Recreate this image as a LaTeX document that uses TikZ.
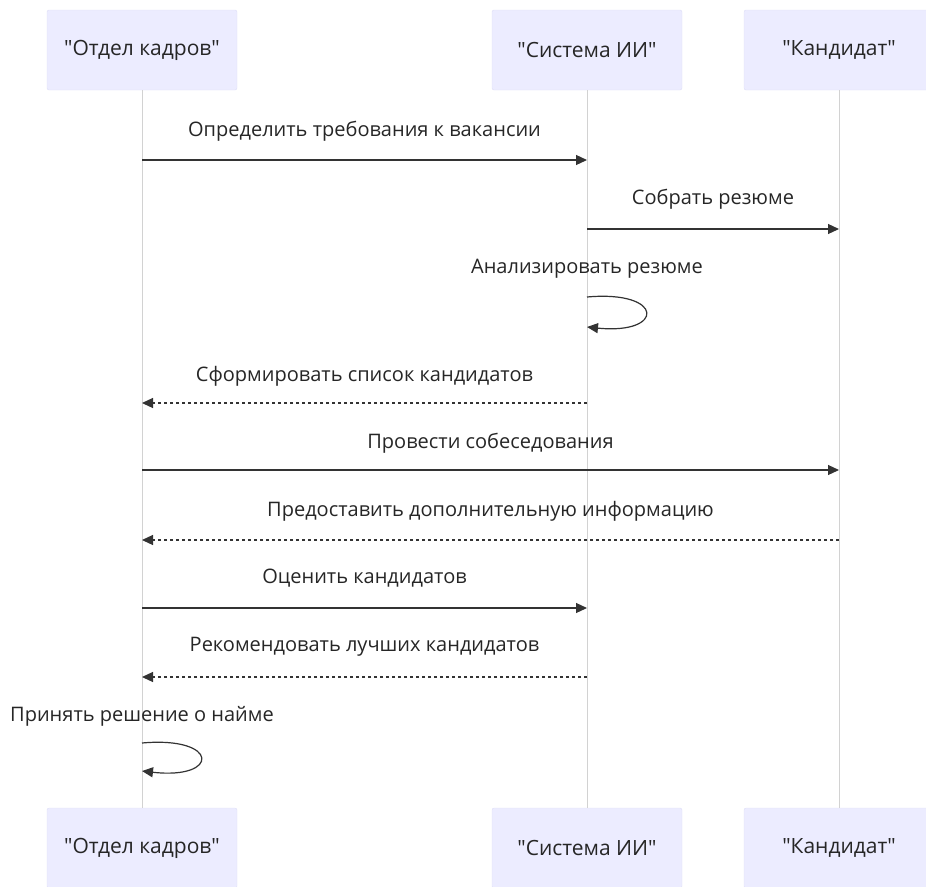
\documentclass[tikz,border=0pt]{standalone}
\usepackage{fontspec}
\setmainfont{Open Sans}
\usetikzlibrary{arrows.meta}
\definecolor{actorfill}{HTML}{ECECFF}
\definecolor{actorline}{HTML}{DEDEF6}
\definecolor{msgcolor}{HTML}{333333}
\newcommand{\qt}[1]{\textquotedbl#1\textquotedbl}
\tikzset{
  actor/.style={draw=actorline, fill=actorfill, rounded corners=2pt, minimum width=190pt, minimum height=80pt, inner sep=0pt, font=\fontsize{21}{25}\selectfont, text=black!85},
  life/.style={draw=gray!35, line width=1pt},
  msg/.style={draw=msgcolor, line width=1.2pt, -{Triangle[length=11pt,width=10pt]}},
  reply/.style={msg, dash pattern=on 3pt off 3pt},
  msglabel/.style={font=\fontsize{20}{24}\selectfont, text=black!85, anchor=mid}
}

\begin{document}
\begin{tikzpicture}[x=1pt, y=-1pt]
  \useasboundingbox (0,0) rectangle (926,886);
  % participants
  \node[actor] (hrT) at (142,50) {\qt{Отдел кадров}};
  \node[actor] (aiT) at (587,50) {\qt{Система ИИ}};
  \node[actor] (candT) at (839,50) {\qt{Кандидат}};
  \node[actor] (hrB) at (142,848) {\qt{Отдел кадров}};
  \node[actor] (aiB) at (587,848) {\qt{Система ИИ}};
  \node[actor] (candB) at (839,848) {\qt{Кандидат}};
  % lifelines
  \draw[life] (hrT) -- (hrB);
  \draw[life] (aiT) -- (aiB);
  \draw[life] (candT) -- (candB);
  % messages
  \node[msglabel] (m1) at (364.5,134) {Определить требования к вакансии};
  \draw[msg] (hrT |- 0,160) -- (aiT |- 0,160);
  \node[msglabel] (m2) at (713,202) {Собрать резюме};
  \draw[msg] (aiT |- 0,229) -- (candT |- 0,229);
  \node[msglabel] (m3) at (587,271) {Анализировать резюме};
  \draw[msg] (aiT |- 0,297) .. controls (665,290) and (665,335) .. (aiT |- 0,327);
  \node[msglabel] (m4) at (364.5,379) {Сформировать список кандидатов};
  \draw[reply] (aiT |- 0,403) -- (hrT |- 0,403);
  \node[msglabel] (m5) at (490.5,446) {Провести собеседования};
  \draw[msg] (hrT |- 0,470) -- (candT |- 0,470);
  \node[msglabel] (m6) at (490.5,514) {Предоставить дополнительную информацию};
  \draw[reply] (candT |- 0,540) -- (hrT |- 0,540);
  \node[msglabel] (m7) at (364.5,581) {Оценить кандидатов};
  \draw[msg] (hrT |- 0,608) -- (aiT |- 0,608);
  \node[msglabel] (m8) at (364.5,649) {Рекомендовать лучших кандидатов};
  \draw[reply] (aiT |- 0,677) -- (hrT |- 0,677);
  \node[msglabel] (m9) at (142,719) {Принять решение о найме};
  \draw[msg] (hrT |- 0,743) .. controls (220,736) and (220,780) .. (hrT |- 0,771);
\end{tikzpicture}
\end{document}
